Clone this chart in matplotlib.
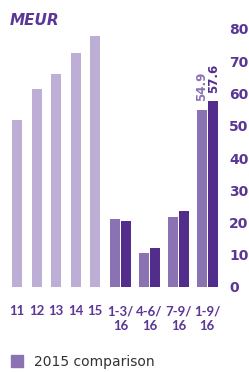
import numpy as np
import matplotlib.pyplot as plt
from matplotlib.patches import Patch

# --- data ---
years = ['11', '12', '13', '14', '15']
year_vals = [51.7, 61.4, 66.0, 72.6, 77.9]
quarters = ['1-3/\n16', '4-6/\n16', '7-9/\n16', '1-9/\n16']
q_2015 = [21.2, 10.6, 21.8, 54.9]
q_2016 = [20.6, 12.1, 23.7, 57.6]

c_year = '#bcaed5'
c_2015 = '#8a72b3'
c_2016 = '#532d8c'
c_text = '#5a3696'

W, H = 249, 372
fig = plt.figure(figsize=(W / 100, H / 100), dpi=100)
# axes in pixel units horizontally
ax = fig.add_axes([0, (H - 287) / H, 225 / W, (287 - 29) / H])
ax.set_xlim(0, 225)
ax.set_ylim(0, 80)

bw = 10
yx = np.array([17, 37, 56, 76, 95])
qx = np.array([120.5, 149.5, 178.5, 207])

ax.bar(yx, year_vals, bw, color=c_year)
ax.bar(qx - 5.5, q_2015, bw, color=c_2015)
ax.bar(qx + 5.5, q_2016, bw, color=c_2016)

# value labels on the last group
ax.annotate(f'{q_2015[-1]:.1f}', (qx[-1] - 5.5, q_2015[-1]), xytext=(0, 9),
            textcoords='offset pixels', rotation=90, ha='center', va='bottom',
            color=c_2015, fontsize=8.5, fontweight='bold')
ax.annotate(f'{q_2016[-1]:.1f}', (qx[-1] + 5.5, q_2016[-1]), xytext=(1, 8),
            textcoords='offset pixels', rotation=90, ha='center', va='bottom',
            color=c_2016, fontsize=8.5, fontweight='bold')

ax.set_xticks(list(yx) + list(qx))
ax.set_xticklabels(years + quarters, color=c_text, fontsize=9.5, fontweight='bold',
                   family='Lato', linespacing=1.3)
ax.tick_params(axis='x', length=0, pad=13)
for lbl in ax.get_xticklabels():
    lbl.set_verticalalignment('top')

ax.yaxis.tick_right()
ax.set_yticks(np.arange(0, 81, 10))
ax.tick_params(axis='y', length=0, pad=3, labelcolor=c_text, labelsize=10)
for lbl in ax.get_yticklabels():
    lbl.set_fontweight('semibold')

for s in ax.spines.values():
    s.set_visible(False)

fig.text(10 / W, 1 - 25 / H, 'MEUR', color=c_text, fontsize=11,
         fontweight='bold', fontstyle='italic', va='baseline', ha='left')

fig.legend(handles=[Patch(color=c_2015)], labels=['2015 comparison'],
           loc='center left', bbox_to_anchor=(-2 / W, 1 - 362 / H),
           frameon=False, handlelength=0.9, handleheight=0.9, handletextpad=0.8,
           fontsize=10, labelcolor='#333333')

fig.savefig('out.png', dpi=100)
